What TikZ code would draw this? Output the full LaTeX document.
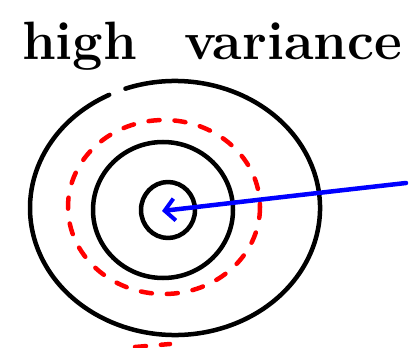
\documentclass[tikz,border=0pt]{standalone}
\usetikzlibrary{arrows.meta}
\begin{document}
\begin{tikzpicture}[x=1pt, y=-1pt, line cap=round, line join=round,
    ring/.style={black, line width=4.5pt},
    spread/.style={red, line width=4.5pt, dash pattern=on 11pt off 15pt},
    pointer/.style={blue, line width=4.5pt, -{Straight Barb[length=10pt, width=22pt, line width=4pt]}}]
    % ==== CANVAS ====
    \useasboundingbox (0,0) rectangle (411,347);

    % ==== TITLE ====
    \node[anchor=base, inner sep=0pt, font=\fontsize{54}{60}\selectfont\bfseries] (title) at (212,60) {high\hspace{0.5em} variance};

    % ==== CENTRES ====
    \coordinate (o) at (168,210);
    \coordinate (mid) at (163,210);
    \coordinate (big) at (175,208);
    \coordinate (dots) at (164,207);

    % ==== RINGS ====
    \draw[ring] (o) ellipse[x radius=27, y radius=28];
    \draw[ring] (mid) ellipse[x radius=70, y radius=68];
    \draw[ring] ([shift={(250:145 and 127)}]big) arc[start angle=250, end angle=603, x radius=145, y radius=127];

    % ==== RED DASHED RING ====
    \draw[spread] (dots) ellipse[x radius=96, y radius=87];
    \draw[spread] (135,347) -- (170,344);

    % ==== ARROW ====
    \coordinate (from) at (406,183);
    \coordinate (tip) at (162,211);
    \draw[pointer] (from) .. controls (300,195) .. (tip);

\end{tikzpicture}
\end{document}
